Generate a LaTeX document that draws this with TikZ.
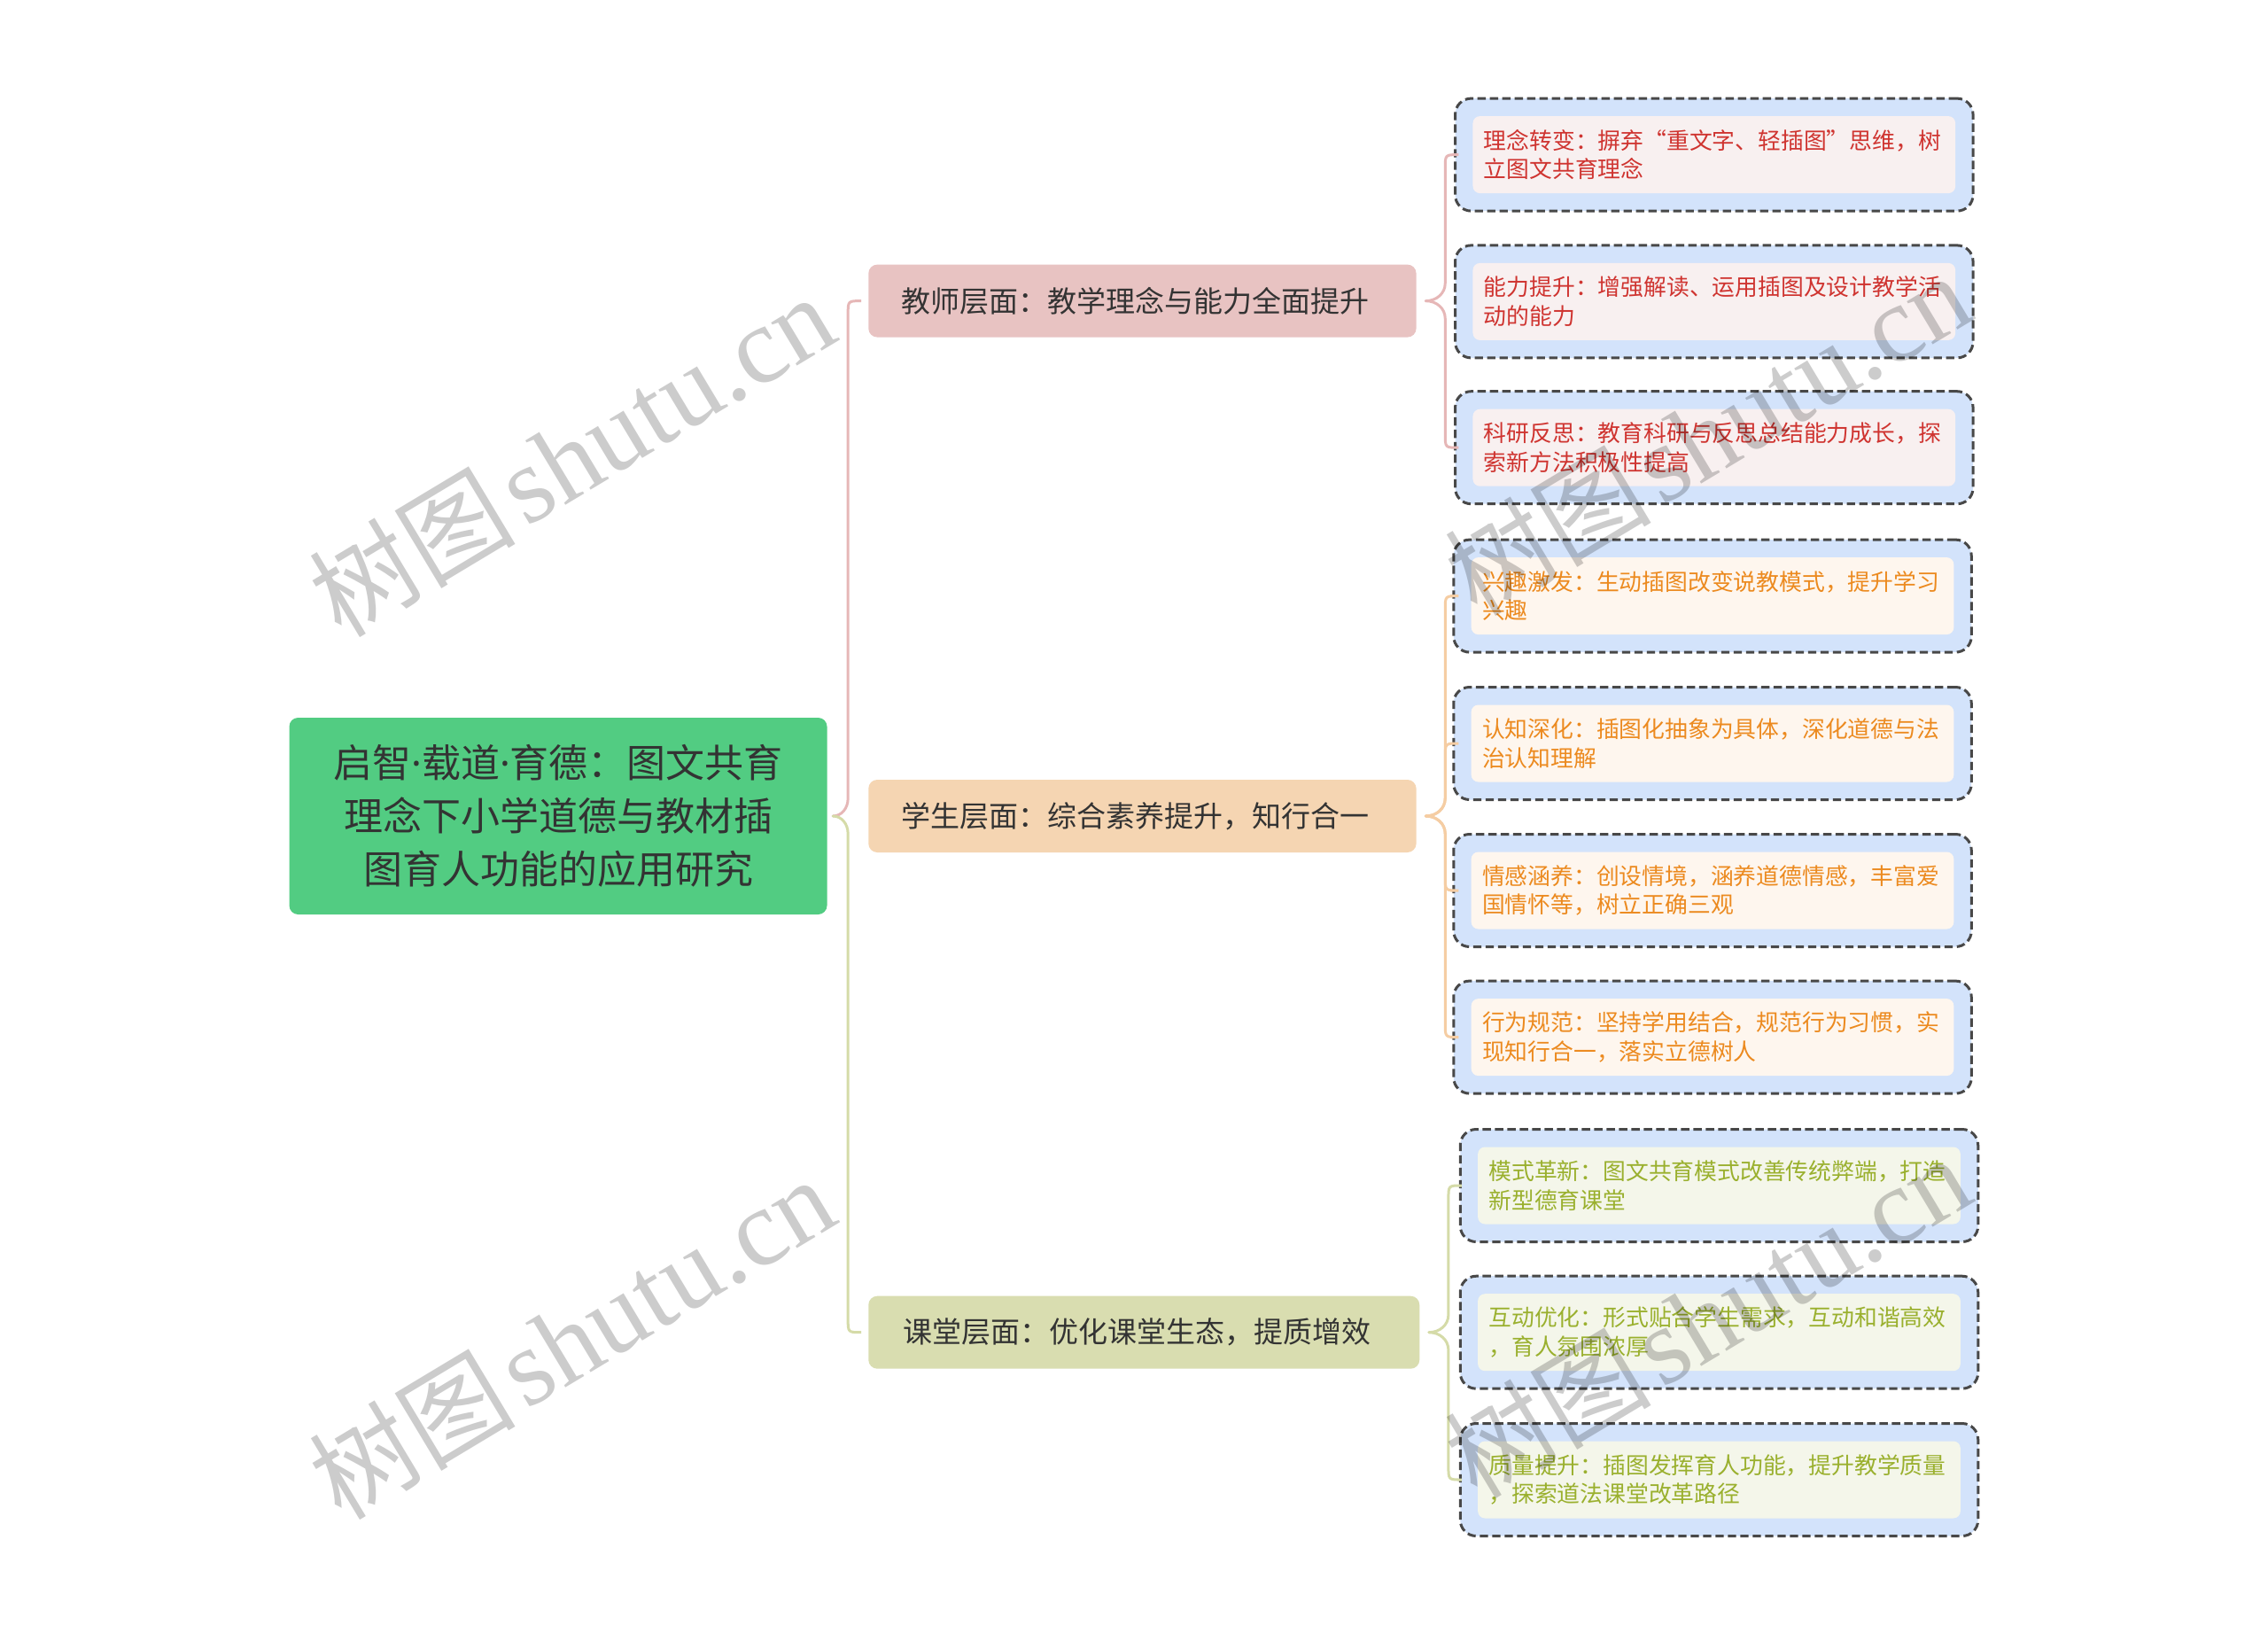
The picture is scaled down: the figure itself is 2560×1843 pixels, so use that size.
\documentclass[tikz,border=0pt]{standalone}
\usepackage{fontspec}
\newfontfamily\cjk{Noto Sans CJK SC}
\newfontfamily\wmserif{Liberation Serif}
\newfontfamily\latinsans{Noto Sans}
\usetikzlibrary{calc}
\definecolor{rootgreen}{HTML}{52CC82}
\definecolor{tfill}{HTML}{E8C3C2}
\definecolor{sfill}{HTML}{F5D5B2}
\definecolor{cfill}{HTML}{D9DDB0}
\definecolor{tline}{HTML}{E6B7B7}
\definecolor{sline}{HTML}{F5CDA3}
\definecolor{cline}{HTML}{D5DBA8}
\definecolor{leafblue}{HTML}{D3E3FB}
\definecolor{tin}{HTML}{F8F0F0}
\definecolor{sin}{HTML}{FEF6EE}
\definecolor{cin}{HTML}{F4F6EA}
\definecolor{ttext}{HTML}{CF3430}
\definecolor{stext}{HTML}{EC8A1F}
\definecolor{ctext}{HTML}{9AB02E}
\definecolor{darktext}{HTML}{333333}
\definecolor{dashgray}{HTML}{484848}
\newcommand{\mdot}{{\latinsans ·}}
\newcommand{\wmtext}{{\cjk\fontsize{35pt}{38pt}\selectfont 树图} {\wmserif\fontsize{37pt}{40pt}\selectfont shutu.cn}}
\newcommand{\brcup}[6]{\draw[conn,#3] let \p1=(#1.east),\p2=(#2.west) in
  (\x1+#4,\y1) .. controls (\x1+0.45*#4+0.55*#5,\y1) and (\x1+#5,\y1+2.5pt) .. (\x1+#5,\y1+6pt)
  -- (\x1+#5,\y2-4.5pt) .. controls (\x1+#5,\y2) .. (\x1+#5+4.5pt,\y2) -- (\x2-#6,\y2);}
\newcommand{\brcdn}[6]{\draw[conn,#3] let \p1=(#1.east),\p2=(#2.west) in
  (\x1+#4,\y1) .. controls (\x1+0.45*#4+0.55*#5,\y1) and (\x1+#5,\y1-2.5pt) .. (\x1+#5,\y1-6pt)
  -- (\x1+#5,\y2+4.5pt) .. controls (\x1+#5,\y2) .. (\x1+#5+4.5pt,\y2) -- (\x2-#6,\y2);}
\begin{document}
\begin{tikzpicture}[x=0.3pt,y=-0.3pt,
  rootbox/.style={fill=rootgreen, rounded corners=3pt, minimum width=182.1pt, minimum height=66.6pt,
    align=center, text=darktext, font=\cjk\fontsize{13.2pt}{18pt}\selectfont, inner sep=0pt},
  midbox/.style={anchor=west, rounded corners=3pt, minimum height=24.6pt, text width=163pt,
    inner xsep=11.25pt, inner ysep=0pt, align=left, text=darktext, font=\cjk\fontsize{9.9pt}{12pt}\selectfont},
  leafout/.style={fill=leafblue, draw=dashgray, line width=0.9pt, dash pattern=on 2.8pt off 1.4pt,
    rounded corners=5.4pt, minimum width=175.35pt, minimum height=38.1pt, inner sep=0pt},
  leafin/.style={rounded corners=2.4pt, minimum width=163.35pt, minimum height=26.1pt,
    text width=156pt, inner xsep=3.7pt, inner ysep=0pt, align=left,
    font=\cjk\fontsize{7.74pt}{9.8pt}\selectfont},
  conn/.style={line width=0.9pt, line cap=round},
  wmark/.style={rotate=31, text=black, text opacity=0.2, inner sep=0pt}]
\fill[white] (0,0) rectangle (2560,1843);
\useasboundingbox (0,0) rectangle (2560,1843);
% root
\node[rootbox] (root) at (630,921) {启智\mdot 载道\mdot 育德：图文共育\\理念下小学道德与教材插\\图育人功能的应用研究};
% level 1
\node[midbox, fill=tfill, minimum width=185.1pt] (teach) at (979.6,339.6) {教师层面：教学理念与能力全面提升};
\node[midbox, fill=sfill, minimum width=185pt] (stud) at (979.6,921) {学生层面：综合素养提升，知行合一};
\node[midbox, fill=cfill, minimum width=186.6pt] (cls) at (979.6,1503.7) {课堂层面：优化课堂生态，提质增效};
% teacher leaves
\node[leafout] (t1) at (1934.8,174.6) {};
\node[leafin, fill=tin, text=ttext] (t1i) at (t1.center) {理念转变：摒弃“重文字、轻插图”思维，树\\立图文共育理念};
\node[leafout] (t2) at (1934.8,340.4) {};
\node[leafin, fill=tin, text=ttext] (t2i) at (t2.center) {能力提升：增强解读、运用插图及设计教学活\\动的能力};
\node[leafout] (t3) at (1934.8,505.2) {};
\node[leafin, fill=tin, text=ttext] (t3i) at (t3.center) {科研反思：教育科研与反思总结能力成长，探\\索新方法积极性提高};
% student leaves
\node[leafout] (s1) at (1933,672.6) {};
\node[leafin, fill=sin, text=stext] (s1i) at (s1.center) {兴趣激发：生动插图改变说教模式，提升学习\\兴趣};
\node[leafout] (s2) at (1933,839) {};
\node[leafin, fill=sin, text=stext] (s2i) at (s2.center) {认知深化：插图化抽象为具体，深化道德与法\\治认知理解};
\node[leafout] (s3) at (1933,1005) {};
\node[leafin, fill=sin, text=stext] (s3i) at (s3.center) {情感涵养：创设情境，涵养道德情感，丰富爱\\国情怀等，树立正确三观};
\node[leafout] (s4) at (1933,1170.6) {};
\node[leafin, fill=sin, text=stext] (s4i) at (s4.center) {行为规范：坚持学用结合，规范行为习惯，实\\现知行合一，落实立德树人};
% classroom leaves
\node[leafout] (c1) at (1940.5,1338) {};
\node[leafin, fill=cin, text=ctext] (c1i) at (c1.center) {模式革新：图文共育模式改善传统弊端，打造\\新型德育课堂};
\node[leafout] (c2) at (1940.5,1503.7) {};
\node[leafin, fill=cin, text=ctext] (c2i) at (c2.center) {互动优化：形式贴合学生需求，互动和谐高效\\，育人氛围浓厚};
\node[leafout] (c3) at (1940.5,1670) {};
\node[leafin, fill=cin, text=ctext] (c3i) at (c3.center) {质量提升：插图发挥育人功能，提升教学质量\\，探索道法课堂改革路径};
% connectors root -> level 1
\brcup{root}{teach}{tline}{1.8pt}{6.9pt}{2.25pt}
\brcdn{root}{cls}{cline}{1.8pt}{6.9pt}{2.25pt}
% teacher -> leaves
\brcup{teach}{t1}{tline}{3pt}{9.6pt}{0.6pt}
\brcdn{teach}{t3}{tline}{3pt}{9.6pt}{0.6pt}
% student -> leaves
\brcup{stud}{s1}{sline}{3pt}{9.6pt}{0.6pt}
\brcup{stud}{s2}{sline}{3pt}{9.6pt}{0.6pt}
\brcdn{stud}{s3}{sline}{3pt}{9.6pt}{0.6pt}
\brcdn{stud}{s4}{sline}{3pt}{9.6pt}{0.6pt}
% classroom -> leaves
\brcup{cls}{c1}{cline}{3pt}{9.6pt}{0.6pt}
\brcdn{cls}{c3}{cline}{3pt}{9.6pt}{0.6pt}
% watermarks
\node[wmark] (w1) at (645,514) {\wmtext};
\node[wmark] (w2) at (645,1510) {\wmtext};
\node[wmark] (w3) at (1927,490) {\wmtext};
\node[wmark] (w4) at (1927,1486) {\wmtext};
\end{tikzpicture}
\end{document}
